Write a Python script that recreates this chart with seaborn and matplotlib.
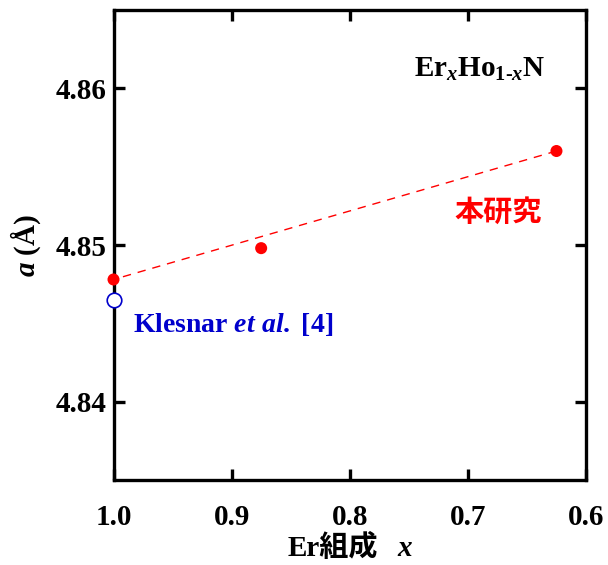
import matplotlib
matplotlib.use("Agg")
import matplotlib.pyplot as plt
import seaborn as sns
import pandas as pd

# --- data ---
x_this = [1.0, 0.875, 0.625]
a_this = [4.8478, 4.8498, 4.8560]
x_ref = [1.0]
a_ref = [4.8465]
x_fit = [1.0, 0.625]
a_fit = [4.8478, 4.8560]
xticks = [1.0, 0.9, 0.8, 0.7, 0.6]
xticklabels = ["1.0", "0.9", "0.8", "0.7", "0.6"]
yticks = [4.84, 4.85, 4.86]
yticklabels = ["4.84", "4.85", "4.86"]

sns.set_theme(style="ticks")
plt.rcParams['font.family'] = ['Liberation Serif', 'Noto Sans CJK JP', 'DejaVu Sans']
plt.rcParams['font.weight'] = 'bold'
plt.rcParams['mathtext.fontset'] = 'custom'
plt.rcParams['mathtext.rm'] = 'Liberation Serif:bold'
plt.rcParams['mathtext.it'] = 'Liberation Serif:bold:italic'
plt.rcParams['mathtext.bf'] = 'Liberation Serif:bold'

fig = plt.figure(figsize=(6.08, 5.65), dpi=100)
ax = fig.add_axes([0.1867, 0.1504, 0.9638 - 0.1867, 0.9823 - 0.1504])

df_fit = pd.DataFrame({"x": x_fit, "a": a_fit})
sns.lineplot(data=df_fit, x="x", y="a", ax=ax, color="#ff0000", lw=1.0,
             linestyle=(0, (6, 5)), zorder=2)
df_this = pd.DataFrame({"x": x_this, "a": a_this})
sns.scatterplot(data=df_this, x="x", y="a", ax=ax, color="#ff0000", s=75,
                edgecolor="none", zorder=4, clip_on=False)
df_ref = pd.DataFrame({"x": x_ref, "a": a_ref})
sns.scatterplot(data=df_ref, x="x", y="a", ax=ax, facecolor="white",
                edgecolor="#0000cc", s=110, linewidth=1.2, zorder=4, clip_on=False)

ax.set_xlim(1.0, 0.6)
ax.set_ylim(4.835, 4.865)
ax.set_xticks(xticks)
ax.set_xticklabels(xticklabels)
ax.set_yticks(yticks)
ax.set_yticklabels(yticklabels)
for s in ax.spines.values():
    s.set_linewidth(2.4)
    s.set_visible(True)
    s.set_color("black")
ax.tick_params(direction="in", length=8, width=2.4, labelsize=21,
               top=True, right=True, colors="black", labelcolor="black")
ax.tick_params(axis="x", pad=17)
ax.tick_params(axis="y", pad=5)
for lab in ax.get_xticklabels() + ax.get_yticklabels():
    lab.set_fontweight("bold")

ax.set_xlabel("")
ax.set_ylabel("$a$ (Å)", fontsize=21, fontweight="bold", labelpad=9, color="black")

# x-axis label pieces
ax.text(0.369, -0.1447, "Er組成", transform=ax.transAxes, fontsize=21,
        fontweight="bold", color="black", ha="left", va="center",
        family=['Liberation Serif', 'Noto Sans CJK JP'])
ax.text(0.600, -0.1447, "x", transform=ax.transAxes, fontsize=21,
        fontweight="bold", fontstyle="italic", color="black", ha="left", va="center",
        family=['Liberation Serif'])

ax.text(0.9835, 4.8449, r"Klesnar $et\ al.$ [4]", color="#0000cc", fontsize=20,
        fontweight="bold", va="center", ha="left")
ax.text(0.6744, 4.8521, "本研究", color="#ff0000", fontsize=21,
        fontweight="bold", va="center", ha="center",
        family=['Noto Sans CJK JP'])
ax.text(0.6897, 4.8612, r"$\mathrm{Er}_{x}\mathrm{Ho}_{\mathrm{1‐}x}\mathrm{N}$",
        color="black", fontsize=21, va="center", ha="center")

fig.savefig("out.png", dpi=100)
